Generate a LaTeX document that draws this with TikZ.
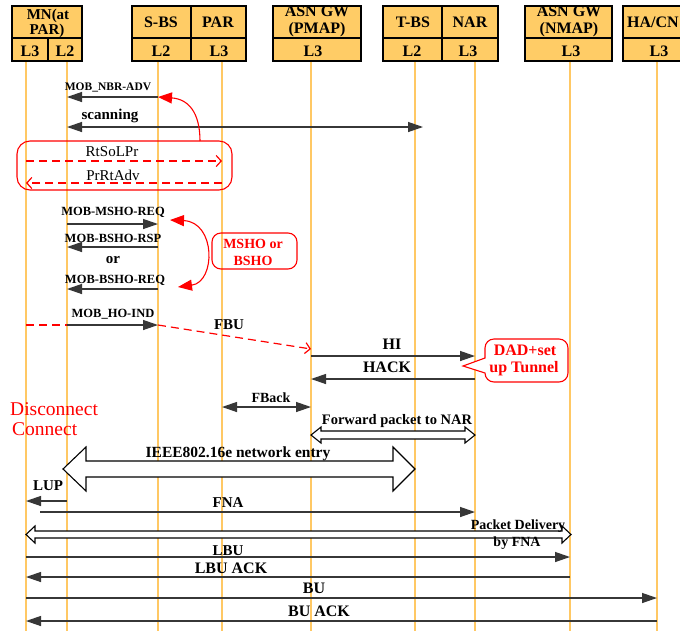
\documentclass[tikz,border=0pt]{standalone}
\usepackage{fontspec}
\setmainfont{Liberation Serif}
\usetikzlibrary{arrows.meta}
\definecolor{boxfill}{RGB}{255,204,102}
\definecolor{lifec}{RGB}{255,200,100}
\definecolor{msgc}{RGB}{55,55,55}
\definecolor{redc}{RGB}{255,0,0}
\begin{document}
\begin{tikzpicture}[x=1pt,y=-1pt,
  life/.style={draw=lifec, line width=2pt},
  hbox/.style={draw=black, line width=1.3pt, fill=boxfill},
  hdr/.style={font=\bfseries\fontsize{16}{16}\selectfont, inner sep=0, anchor=base},
  lbl/.style={font=\bfseries\fontsize{15}{15}\selectfont, inner sep=0, anchor=base},
  lblb/.style={font=\bfseries\fontsize{16}{16}\selectfont, inner sep=0, anchor=base},
  mob/.style={font=\bfseries\fontsize{12.5}{13}\selectfont, inner sep=0, anchor=base},
  rlbl/.style={font=\fontsize{15}{15}\selectfont, inner sep=0, anchor=base},
  rbold/.style={font=\bfseries\fontsize{14}{14}\selectfont, text=redc, inner sep=0, anchor=base},
  msg/.style={draw=msgc, line width=1.3pt, -{Triangle[length=15pt,width=10pt]}},
  msgb/.style={draw=msgc, line width=1.3pt, {Triangle[length=15pt,width=10pt]}-{Triangle[length=15pt,width=10pt]}},
  rdash/.style={draw=redc, line width=1.2pt, dash pattern=on 8pt off 5pt},
  rtip/.style={-{Straight Barb[length=5pt,width=11pt]}},
  rcurve/.style={draw=redc, line width=1.1pt},
  hollow/.style={draw=black, line width=1.1pt, fill=white}
]
\clip (0,0) rectangle (680,630);
\fill[white] (0,0) rectangle (680,630);

% lifeline anchors
\coordinate (mnA) at (26,61);
\coordinate (mnB) at (67,61);
\coordinate (sbs) at (158,61);
\coordinate (par) at (222,61);
\coordinate (pmap) at (311,61);
\coordinate (tbs) at (415,61);
\coordinate (nar) at (475,61);
\coordinate (nmap) at (570,61);
\coordinate (ha) at (657,61);
\foreach \c in {mnA,mnB,sbs,par,pmap,tbs,nar,nmap,ha}
  \draw[life] (\c) -- (\c |- 0,632);

% header boxes
\draw[hbox] (12,6) rectangle (82,61);
\draw[line width=1.3pt] (12,38) -- (82,38) (48,38) -- (48,61);
\node[hdr, font=\bfseries\fontsize{15}{15}\selectfont] (mn1) at (48,19.5) {MN(at};
\node[hdr, font=\bfseries\fontsize{15}{15}\selectfont] (mn2) at (47,34.5) {PAR)};
\node[hdr] (mnl3) at (30,56) {L3};
\node[hdr] (mnl2) at (65,56) {L2};

\draw[hbox] (132,6) rectangle (246,61);
\draw[line width=1.3pt] (132,38) -- (246,38) (191,6) -- (191,61);
\node[hdr] (sbsT) at (161,27) {S-BS};
\node[hdr] (parT) at (218,27) {PAR};
\node[hdr] (sbsl) at (161,56) {L2};
\node[hdr] (parl) at (219,56) {L3};

\draw[hbox] (273,6) rectangle (361,61);
\draw[line width=1.3pt] (273,38) -- (361,38);
\begin{scope}
\clip (273,6) rectangle (361,38);
\node[hdr] (pmapT1) at (317,16.5) {ASN GW};
\node[hdr] (pmapT2) at (317,33) {(PMAP)};
\end{scope}
\node[hdr] (pmapl) at (313,56) {L3};

\draw[hbox] (383,6) rectangle (498,61);
\draw[line width=1.3pt] (383,38) -- (498,38) (442,6) -- (442,61);
\node[hdr] (tbsT) at (413,27) {T-BS};
\node[hdr] (narT) at (470,27) {NAR};
\node[hdr] (tbsl) at (412,56) {L2};
\node[hdr] (narl) at (468,56) {L3};

\draw[hbox] (525,6) rectangle (612,61);
\draw[line width=1.3pt] (525,38) -- (612,38);
\begin{scope}
\clip (525,6) rectangle (612,38);
\node[hdr] (nmapT1) at (569,16.5) {ASN GW};
\node[hdr] (nmapT2) at (569,33) {(NMAP)};
\end{scope}
\node[hdr] (nmapl) at (571,56) {L3};

\draw[hbox] (623,6) rectangle (695,61);
\draw[line width=1.3pt] (623,38) -- (695,38);
\node[hdr] (haT) at (653,27) {HA/CN};
\node[hdr] (hal) at (659,56) {L3};

% MOB_NBR-ADV and scanning
\node[mob, font=\bfseries\fontsize{11.5}{12}\selectfont] (l1) at (108,90) {MOB\_NBR-ADV};
\draw[msg] (sbs |- 0,97) -- (mnB |- 0,97);
\node[lbl] (l2) at (110,119) {scanning};
\draw[msgb] (mnB |- 0,127) -- (423,127);

% red rounded group
\draw[rcurve, rounded corners=13pt] (17,141) rectangle (232,190);
\coordinate (grpTop) at (200,141);
\draw[rcurve, -{Triangle[length=14pt,width=11pt]}] (grpTop) .. controls (200,112) and (188,99) .. (sbs |- 0,97);
\node[rlbl] (l3) at (112,156) {RtSoLPr};
\draw[rdash, rtip] (mnA |- 0,161) -- (par |- 0,161);
\node[rlbl] (l4) at (113,180) {PrRtAdv};
\draw[rdash, rtip] (par |- 0,183) -- (mnA |- 0,183);

% MSHO / BSHO
\node[mob] (l5) at (113,215) {MOB-MSHO-REQ};
\draw[msg] (mnB |- 0,224) -- (sbs |- 0,224);
\node[mob] (l6) at (113,242) {MOB-BSHO-RSP};
\draw[msg] (sbs |- 0,247) -- (mnB |- 0,247);
\node[lbl] (l7) at (113,263) {or};
\node[mob] (l8) at (115,283) {MOB-BSHO-REQ};
\draw[msg] (sbs |- 0,289) -- (mnB |- 0,289);
\coordinate (cA) at (170,220);
\coordinate (cB) at (178,287);
\draw[rcurve, {Triangle[length=14pt,width=11pt]}-{Triangle[length=14pt,width=11pt]}] (cA) .. controls (216,222) and (216,282) .. (cB);
\draw[rcurve, rounded corners=9pt] (212,233) rectangle (297,269);
\node[rbold] (l9) at (253,248) {MSHO or};
\node[rbold] (l10) at (253,265) {BSHO};

% MOB_HO-IND and FBU
\node[mob] (l11) at (113,317) {MOB\_HO-IND};
\draw[rdash] (mnA |- 0,325) -- (mnB |- 0,325);
\draw[msg] (mnB |- 0,325) -- (sbs |- 0,325);
\node[lbl] (l12) at (229,329) {FBU};
\draw[rdash, rtip] (sbs |- 0,325) -- (pmap |- 0,349);

% HI / HACK
\node[lblb] (l13) at (392,349) {HI};
\draw[msg] (pmap |- 0,356) -- (nar |- 0,356);
\node[lblb] (l14) at (387,372) {HACK};
\draw[msg] (nar |- 0,379) -- (pmap |- 0,379);

% DAD callout
\draw[rcurve, fill=white] (485,358) [rounded corners=9pt] -- (485,339) -- (568,339) -- (568,382) -- (485,382) [sharp corners] -- (485,373) -- (463,366) -- cycle;
\node[rbold, font=\bfseries\fontsize{16}{16}\selectfont] (l15) at (525,355) {DAD+set};
\node[rbold, font=\bfseries\fontsize{16}{16}\selectfont] (l16) at (524,372) {up Tunnel};

% FBack
\node[lbl, font=\bfseries\fontsize{14}{14}\selectfont] (l17) at (271,402) {FBack};
\draw[msgb] (par |- 0,407) -- (pmap |- 0,407);

% Forward packet to NAR
\node[lbl, font=\bfseries\fontsize{14.5}{15}\selectfont] (l18) at (397,424) {Forward packet to NAR};
\draw[hollow] (311,435) -- (321,427) -- (321,431) -- (465,431) -- (465,427) -- (475,435) -- (465,443) -- (465,439) -- (321,439) -- (321,443) -- cycle;

% Disconnect / Connect
\node[font=\fontsize{19.5}{20}\selectfont, text=redc, inner sep=0, anchor=base west] (dis) at (10,415) {Disconnect};
\node[font=\fontsize{19.5}{20}\selectfont, text=redc, inner sep=0, anchor=base west] (con) at (12,435) {Connect};

% IEEE802.16e network entry
\draw[hollow] (63,469) -- (86,447) -- (86,461) -- (393,461) -- (393,447) -- (415,469) -- (393,491) -- (393,477) -- (86,477) -- (86,491) -- cycle;
\node[lbl, font=\bfseries\fontsize{15.5}{16}\selectfont] (l19) at (238,457) {IEEE802.16e network entry};

% LUP
\node[lbl] (l20) at (48,490) {LUP};
\draw[msg] (mnB |- 0,501) -- (mnA |- 0,501);

% FNA
\node[lbl] (l21) at (228,507) {FNA};
\draw[msg] (40,512) -- (nar |- 0,512);

% Packet delivery
\draw[hollow] (26,534.5) -- (35,526) -- (35,531) -- (562,531) -- (562,526) -- (571,534.5) -- (562,543) -- (562,538) -- (35,538) -- (35,543) -- cycle;
\node[lbl, font=\bfseries\fontsize{14}{14}\selectfont] (l22) at (518,529) {Packet Delivery};
\node[lbl, font=\bfseries\fontsize{14}{14}\selectfont] (l23) at (517,546) {by FNA};

% LBU, LBU ACK, BU, BU ACK
\node[lbl] (l24) at (228,555) {LBU};
\draw[msg] (mnA |- 0,557) -- (nmap |- 0,557);
\node[lblb] (l25) at (231,573) {LBU ACK};
\draw[msg] (nmap |- 0,577) -- (mnA |- 0,577);
\node[lblb] (l26) at (314,593) {BU};
\draw[msg] (mnA |- 0,598) -- (ha |- 0,598);
\node[lblb] (l27) at (319,616) {BU ACK};
\draw[msg] (ha |- 0,621) -- (mnA |- 0,621);
\end{tikzpicture}
\end{document}
